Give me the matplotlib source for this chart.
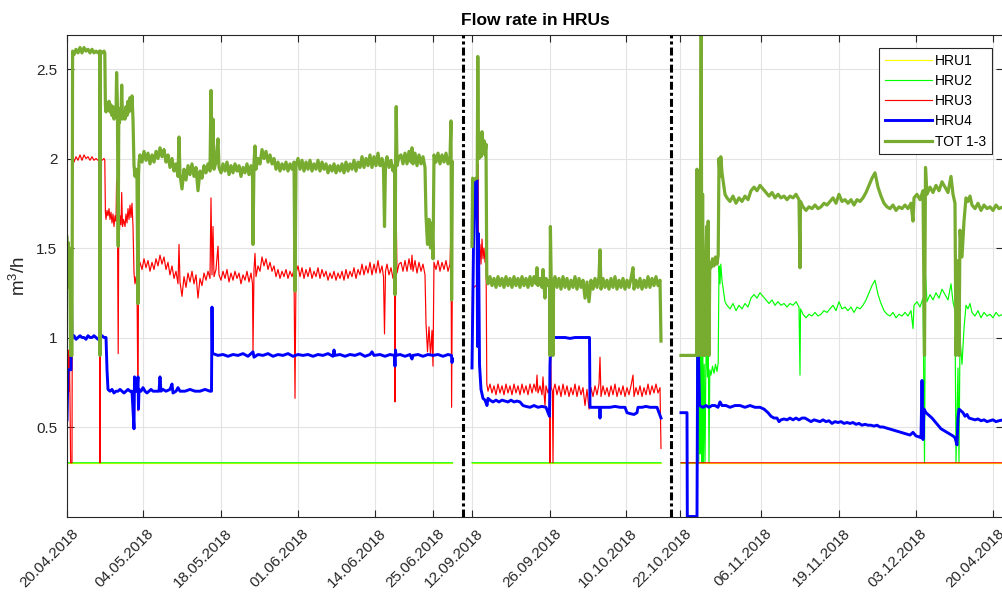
import numpy as np
import matplotlib
matplotlib.use("Agg")
import matplotlib.pyplot as plt
from matplotlib.transforms import ScaledTranslation

plt.rcParams['font.family'] = ['Liberation Sans', 'DejaVu Sans']
plt.rcParams['mathtext.fontset'] = 'custom'
plt.rcParams['mathtext.rm'] = 'Liberation Sans'

# ---------------- data (x = sample index, y = flow in m3/h) ----------------
HRU1_LEVEL = 0.3          # HRU1 constant over whole record
HRU2_LEVEL_A = 0.3        # HRU2 during periods 1 and 2
HRU3_LEVEL_C = 0.3        # HRU3 during period 3

# HRU3 period 1
hru3_seg1 = [
    (67.0, 0.96), (67.6, 0.68), (68.2, 0.93), (68.8, 0.70), (69.4, 0.90), (70.0, 0.66),
    (70.6, 0.30), (72.0, 0.30), (72.6, 2.00), (74, 1.98), (76, 2.01), (78, 1.99),
    (80, 2.02), (82, 1.99), (84, 2.02), (86, 2.00), (88, 2.01), (90, 1.99), (92, 2.01),
    (94, 1.99), (96, 2.00), (98, 1.99), (99.6, 2.00), (100.0, 0.30), (100.4, 2.00),
    (102, 1.99), (104, 2.00), (104.8, 1.99), (105.4, 1.70), (106, 1.66), (107, 1.71),
    (108, 1.68), (109, 1.72), (110, 1.66), (111, 1.70), (112, 1.64), (113, 1.69),
    (114, 1.62), (115, 1.68), (116, 1.65), (116.6, 1.88), (117.4, 1.70), (118.2, 0.91),
    (118.8, 1.66), (119.5, 1.60), (120, 1.68), (121, 1.63), (121.7, 1.81), (122.5, 1.62),
    (123.5, 1.66), (125, 1.62), (126, 1.69), (127, 1.64), (128, 1.72), (129, 1.66),
    (130, 1.74), (131, 1.67), (132, 1.75), (133, 1.62), (134, 1.36), (135, 1.30),
    (136, 1.34), (137, 1.28), (138, 0.59), (138.5, 1.30), (139, 1.38), (140, 1.42),
    (142, 1.38), (144, 1.44), (146, 1.39), (148, 1.43), (150, 1.37), (152, 1.42),
    (154, 1.38), (156, 1.44), (158, 1.40), (160, 1.46), (162, 1.41), (164, 1.45),
    (166, 1.38), (168, 1.42), (170, 1.35), (172, 1.40), (174, 1.33), (176, 1.37),
    (178, 1.30), (179, 1.52), (180, 1.31), (182, 1.23), (184, 1.34), (186, 1.28),
    (188, 1.36), (190, 1.31), (192, 1.37), (194, 1.30), (196, 1.35), (198, 1.22),
    (200, 1.33), (202, 1.29), (204, 1.36), (206, 1.32), (208, 1.37), (210, 1.33),
    (211, 1.78), (212, 1.35), (213, 1.62), (214, 1.34), (216, 1.38), (218, 1.51),
    (219, 1.35), (221, 1.32), (223, 1.37), (225, 1.33), (227, 1.38), (229, 1.31),
    (231, 1.36), (233, 1.32), (235, 1.37), (237, 1.33), (239, 1.36), (241, 1.30),
    (243, 1.35), (245, 1.32), (247, 1.37), (249, 1.31), (251, 1.36), (252.5, 1.30),
    (253.0, 0.92), (253.5, 1.17), (254, 1.38), (255, 1.47), (256, 1.34), (258, 1.40),
    (260, 1.37), (262, 1.45), (264, 1.40), (266, 1.44), (268, 1.38), (270, 1.42),
    (272, 1.37), (274, 1.40), (276, 1.34), (278, 1.38), (280, 1.33), (282, 1.37),
    (284, 1.34), (286, 1.38), (288, 1.33), (290, 1.37), (292, 1.34), (294, 1.38),
    (295, 0.66), (296, 1.36), (298, 1.40), (300, 1.34), (302, 1.39), (304, 1.33),
    (306, 1.38), (308, 1.34), (310, 1.39), (312, 1.33), (314, 1.37), (316, 1.34),
    (318, 1.39), (320, 1.33), (322, 1.38), (324, 1.34), (326, 1.37), (328, 1.32),
    (330, 1.36), (332, 1.33), (334, 1.37), (336, 1.32), (338, 1.36), (340, 1.33),
    (342, 1.37), (344, 1.32), (346, 1.38), (348, 1.33), (350, 1.37), (352, 1.34),
    (354, 1.39), (356, 1.33), (358, 1.38), (360, 1.35), (362, 1.41), (364, 1.35),
    (366, 1.40), (368, 1.36), (370, 1.42), (372, 1.35), (374, 1.41), (376, 1.36),
    (378, 1.43), (380, 1.36), (382, 1.40), (383.5, 1.34), (384.5, 1.02), (385.5, 1.37),
    (387, 1.41), (389, 1.35), (391, 1.39), (393, 1.33), (394.6, 1.36), (395.0, 0.64),
    (395.6, 1.38), (396.2, 1.69), (397, 1.36), (399, 1.41), (401, 1.42), (403, 1.37),
    (405, 1.43), (407, 1.37), (409, 1.44), (411, 1.38), (412, 1.46), (413, 1.37),
    (415, 1.43), (417, 1.36), (419, 1.42), (421, 1.37), (423, 1.41), (425, 1.35),
    (426, 1.08), (427.5, 0.92), (429, 1.06), (430.5, 0.90), (432, 1.04), (433, 0.84),
    (434, 1.42), (436, 1.38), (438, 1.43), (440, 1.37), (442, 1.42), (444, 1.38),
    (446, 1.43), (448, 1.37), (450, 1.41), (451, 1.61), (451.6, 0.61), (452.4, 1.38),
]

# HRU3 period 2
hru3_seg2 = [
    (472.0, 0.91), (472.6, 1.29), (474, 1.28), (476, 1.29), (477.2, 1.29), (477.8, 1.97),
    (478.4, 1.50), (479, 1.40), (480, 1.52), (481, 1.41), (482, 1.55), (483, 1.44),
    (484, 1.50), (485, 1.42), (486, 1.48), (486.8, 0.74), (488, 0.70), (490, 0.74),
    (492, 0.69), (494, 0.73), (496, 0.68), (498, 0.74), (500, 0.69), (502, 0.73),
    (504, 0.68), (506, 0.74), (508, 0.69), (510, 0.73), (512, 0.68), (514, 0.74),
    (516, 0.69), (518, 0.73), (520, 0.68), (522, 0.74), (524, 0.69), (526, 0.73),
    (528, 0.68), (530, 0.74), (532, 0.69), (534, 0.74), (536, 0.70), (537, 0.79),
    (538, 0.69), (540, 0.73), (542, 0.68), (543, 0.78), (544, 0.69), (545, 0.62),
    (546, 0.73), (548, 0.69), (549.6, 0.72), (550.0, 0.30), (550.4, 1.02), (551.2, 0.72),
    (552.4, 0.70), (553.0, 0.30), (553.6, 0.71), (555, 0.74), (557, 0.68), (559, 0.73),
    (561, 0.67), (563, 0.74), (565, 0.68), (567, 0.73), (569, 0.67), (571, 0.72),
    (573, 0.68), (575, 0.74), (577, 0.67), (579, 0.73), (581, 0.68), (583, 0.72),
    (585, 0.62), (587, 0.71), (589, 0.60), (591, 0.72), (593, 0.67), (595, 0.73),
    (597, 0.68), (599, 0.74), (600, 0.89), (601, 0.67), (603, 0.73), (605, 0.68),
    (607, 0.72), (609, 0.67), (611, 0.73), (613, 0.68), (615, 0.74), (617, 0.67),
    (619, 0.72), (621, 0.68), (623, 0.73), (625, 0.67), (627, 0.72), (629, 0.68),
    (631, 0.73), (633, 0.79), (634, 0.67), (636, 0.72), (638, 0.68), (640, 0.73),
    (642, 0.67), (644, 0.72), (646, 0.68), (648, 0.74), (650, 0.68), (652, 0.73),
    (654, 0.69), (656, 0.74), (658, 0.69), (660, 0.72), (661, 0.38),
]

# HRU2 period 3
hru2_seg3 = [
    (681, 0.30), (696.6, 0.30), (697.0, 1.34), (697.6, 0.45), (698.2, 1.20), (698.8, 0.30),
    (699.4, 1.19), (700.0, 0.35), (700.6, 1.15), (701.2, 2.30), (701.8, 0.30), (702.6, 1.20),
    (703.4, 0.30), (704.2, 0.85), (705.0, 0.30), (705.8, 0.81), (706.6, 1.02), (707.4, 0.78),
    (708.2, 1.05), (709.0, 0.30), (709.8, 0.82), (711, 0.79), (712.5, 0.84), (714, 0.80),
    (715.5, 0.85), (717, 0.81), (718.2, 0.86), (719.0, 1.40), (720.0, 1.30), (720.8, 1.41),
    (722, 1.32), (723.5, 1.26), (725, 1.20), (727, 1.18), (730, 1.16), (733, 1.19),
    (736, 1.15), (739, 1.18), (742, 1.16), (745, 1.19), (748, 1.17), (751, 1.22),
    (754, 1.24), (757, 1.22), (760, 1.25), (763, 1.23), (766, 1.21), (769, 1.19),
    (772, 1.21), (775, 1.18), (778, 1.20), (781, 1.18), (784, 1.19), (787, 1.17),
    (790, 1.19), (793, 1.18), (796, 1.20), (799, 1.17), (800, 0.79), (800.5, 1.16),
    (803, 1.13), (806, 1.11), (809, 1.13), (812, 1.12), (815, 1.14), (818, 1.12),
    (821, 1.13), (824, 1.15), (827, 1.14), (830, 1.16), (833, 1.18), (836, 1.15),
    (839, 1.20), (842, 1.16), (845, 1.17), (848, 1.15), (851, 1.17), (854, 1.14),
    (857, 1.17), (860, 1.16), (863, 1.18), (866, 1.21), (869, 1.25), (872, 1.29),
    (875, 1.32), (878, 1.24), (881, 1.19), (884, 1.15), (887, 1.13), (890, 1.12),
    (893, 1.14), (896, 1.11), (899, 1.13), (902, 1.12), (905, 1.14), (908, 1.12),
    (911, 1.15), (913, 1.05), (914, 1.18), (917, 1.20), (920, 1.17), (923, 1.22),
    (924.5, 0.30), (925.5, 1.35), (927, 1.20), (930, 1.24), (933, 1.21), (936, 1.25),
    (939, 1.22), (942, 1.27), (945, 1.24), (948, 1.21), (951, 1.30), (953, 1.20),
    (955, 1.15), (956, 0.30), (958, 0.83), (959, 0.30), (960, 1.00), (962, 0.85),
    (964, 1.05), (966, 1.18), (968, 1.16), (970, 1.19), (972, 1.14), (975, 1.12),
    (978, 1.15), (981, 1.11), (984, 1.14), (987, 1.12), (990, 1.13), (993, 1.11),
    (996, 1.14), (999, 1.12), (1003, 1.13),
]

# HRU4 (three periods)
hru4_seg1 = [
    (67, 0.54), (68, 0.82), (71, 0.82), (71.5, 1.22), (72, 1.00), (74, 1.01), (76, 0.99),
    (78, 1.00), (80, 1.01), (82, 1.00), (84, 1.00), (86, 0.99), (88, 1.01), (90, 1.00),
    (92, 1.00), (94, 1.01), (96, 1.00), (98, 0.99), (100, 1.00), (102, 1.01), (104, 1.00),
    (106, 1.00), (107, 0.82), (108, 0.71), (110, 0.70), (112, 0.71), (114, 0.69),
    (116, 0.70), (118, 0.70), (120, 0.71), (122, 0.70), (124, 0.69), (126, 0.70),
    (128, 0.71), (130, 0.70), (132, 0.70), (134, 0.49), (134.5, 0.78), (135.5, 0.70),
    (137, 0.70), (138, 0.78), (138.5, 0.60), (139, 0.71), (141, 0.70), (143, 0.72),
    (145, 0.70), (147, 0.69), (149, 0.70), (151, 0.71), (153, 0.70), (155, 0.70),
    (157, 0.70), (159, 0.70), (160, 0.78), (161, 0.70), (163, 0.71), (166, 0.70),
    (170, 0.71), (172, 0.74), (173, 0.69), (176, 0.70), (178, 0.72), (180, 0.70),
    (185, 0.70), (190, 0.71), (195, 0.70), (200, 0.70), (205, 0.71), (210, 0.70),
    (211.5, 0.70), (212, 1.17), (212.5, 0.91), (213, 0.91), (218, 0.90), (223, 0.905),
    (228, 0.895), (233, 0.905), (238, 0.90), (243, 0.91), (248, 0.895), (253, 0.92),
    (254, 0.89), (258, 0.905), (263, 0.90), (268, 0.91), (273, 0.895), (278, 0.905),
    (283, 0.90), (288, 0.91), (293, 0.895), (298, 0.905), (303, 0.90), (308, 0.905),
    (313, 0.895), (318, 0.905), (323, 0.90), (328, 0.91), (333, 0.895), (334, 0.93),
    (335, 0.90), (340, 0.905), (345, 0.895), (350, 0.905), (355, 0.90), (360, 0.91),
    (365, 0.895), (370, 0.905), (372, 0.92), (374, 0.90), (380, 0.905), (385, 0.895),
    (390, 0.905), (394.5, 0.90), (395, 0.84), (395.5, 0.93), (396, 0.90), (400, 0.905),
    (405, 0.895), (410, 0.905), (412, 0.88), (413, 0.90), (418, 0.905), (423, 0.895),
    (428, 0.905), (433, 0.90), (438, 0.905), (443, 0.895), (448, 0.905), (451.5, 0.90),
    (452, 0.86), (452.5, 0.88),
]
hru4_seg2 = [
    (472, 0.83), (473.5, 1.51), (475, 1.88), (477, 1.88), (477.5, 0.95), (478.5, 1.58),
    (479.5, 0.85), (481, 0.71), (483, 0.66), (485, 0.65), (487, 0.62), (488, 0.66),
    (490, 0.65), (493, 0.64), (496, 0.65), (499, 0.64), (502, 0.65), (505, 0.645),
    (508, 0.64), (511, 0.65), (514, 0.64), (517, 0.645), (520, 0.64), (523, 0.62),
    (526, 0.615), (530, 0.61), (534, 0.62), (538, 0.61), (542, 0.615), (546, 0.61),
    (548, 0.58), (549.5, 0.56), (550, 0.85), (551, 1.00), (555, 1.00), (560, 1.00),
    (565, 1.00), (570, 0.995), (575, 1.00), (580, 1.00), (585, 1.00), (589.5, 1.00),
    (590, 0.61), (595, 0.61), (599.5, 0.61), (600, 0.55), (600.5, 0.61), (605, 0.61),
    (610, 0.61), (615, 0.615), (620, 0.61), (625, 0.61), (627, 0.58), (630, 0.575),
    (634, 0.57), (637, 0.58), (638, 0.61), (642, 0.61), (646, 0.615), (650, 0.61),
    (654, 0.61), (657, 0.61), (659, 0.58), (661, 0.55),
]
hru4_seg3 = [
    (681, 0.58), (687, 0.58), (687.3, 0.0), (697, 0.0), (697.7, 1.04), (698.5, 0.90),
    (699.5, 0.62), (703, 0.61), (706, 0.62), (709, 0.61), (712, 0.62), (715, 0.62),
    (718, 0.61), (720, 0.64), (722, 0.62), (726, 0.62), (730, 0.61), (735, 0.62),
    (740, 0.62), (745, 0.61), (750, 0.62), (755, 0.61), (760, 0.61), (764, 0.60),
    (768, 0.58), (771, 0.56), (774, 0.55), (777, 0.55), (779, 0.53), (781, 0.54),
    (784, 0.545), (787, 0.54), (790, 0.55), (793, 0.54), (796, 0.55), (799, 0.54),
    (802, 0.55), (805, 0.55), (808, 0.54), (811, 0.53), (814, 0.54), (817, 0.535),
    (820, 0.53), (823, 0.54), (826, 0.53), (829, 0.535), (832, 0.52), (835, 0.53),
    (838, 0.525), (841, 0.53), (844, 0.52), (847, 0.525), (850, 0.52), (853, 0.525),
    (856, 0.515), (859, 0.52), (862, 0.51), (865, 0.515), (868, 0.51), (871, 0.51),
    (874, 0.505), (877, 0.51), (880, 0.50), (883, 0.50), (886, 0.495), (889, 0.49),
    (892, 0.485), (895, 0.48), (898, 0.475), (901, 0.47), (904, 0.465), (907, 0.46),
    (910, 0.455), (913, 0.47), (916, 0.45), (919, 0.445), (921, 0.44), (922, 0.76),
    (923, 0.43), (924, 0.60), (926, 0.58), (928, 0.57), (930, 0.56), (932, 0.55),
    (935, 0.53), (938, 0.51), (941, 0.49), (944, 0.48), (947, 0.47), (950, 0.46),
    (953, 0.45), (955, 0.44), (957, 0.40), (958, 0.55), (959, 0.60), (961, 0.59),
    (963, 0.58), (965, 0.56), (967, 0.57), (969, 0.55), (972, 0.545), (975, 0.54),
    (978, 0.545), (981, 0.535), (984, 0.54), (987, 0.53), (990, 0.535), (993, 0.54),
    (996, 0.53), (999, 0.535), (1003, 0.54),
]

tick_pos = [67, 143, 221, 298, 375, 433, 472, 550, 626, 680, 761, 839, 916, 993]
tick_labels = ['20.04.2018', '04.05.2018', '18.05.2018', '01.06.2018', '14.06.2018',
               '25.06.2018', '12.09.2018', '26.09.2018', '10.10.2018', '22.10.2018',
               '06.11.2018', '19.11.2018', '03.12.2018', '20.04.2018']
period_breaks = [462.5, 671]
series_names = ['HRU1', 'HRU2', 'HRU3', 'HRU4', 'TOT 1-3']

# ---------------- build series ----------------
def unzip(pairs):
    return [p[0] for p in pairs], [p[1] for p in pairs]

x1, h3_1 = unzip(hru3_seg1)
x2, h3_2 = unzip(hru3_seg2)
x3, h2_3 = unzip(hru2_seg3)
NAN = [np.nan]
x_all = np.array(x1 + NAN + x2 + NAN + x3, dtype=float)
hru1 = np.array([HRU1_LEVEL] * len(x1) + NAN + [HRU1_LEVEL] * len(x2) + NAN + [HRU1_LEVEL] * len(x3))
hru2 = np.array([HRU2_LEVEL_A] * len(x1) + NAN + [HRU2_LEVEL_A] * len(x2) + NAN + h2_3)
hru3 = np.array(h3_1 + NAN + h3_2 + NAN + [HRU3_LEVEL_C] * len(x3))
tot = hru1 + hru2 + hru3

b1x, b1y = unzip(hru4_seg1)
b2x, b2y = unzip(hru4_seg2)
b3x, b3y = unzip(hru4_seg3)
xb = np.array(b1x + NAN + b2x + NAN + b3x, dtype=float)
hru4 = np.array(b1y + NAN + b2y + NAN + b3y, dtype=float)

# ---------------- figure ----------------
W, H = 1002, 592
fig = plt.figure(figsize=(W / 100, H / 100), dpi=100)
ax = fig.add_axes([67 / W, (H - 516.5) / H, (1003 - 67) / W, (516.5 - 35) / H])

dark = '#262626'
ax.plot(x_all, hru1, color='#ffff00', lw=0.85, label=series_names[0])
ax.plot(x_all, hru2, color='#00ff00', lw=0.85, label=series_names[1])
ax.plot(x_all, hru3, color='#ff0000', lw=0.85, label=series_names[2])
ax.plot(xb, hru4, color='#0000ff', lw=2.1, label=series_names[3])
ax.plot(x_all, tot, color='#77ac30', lw=2.3, label=series_names[4])

for xbk in period_breaks:
    ax.axvline(xbk, color='black', lw=2.2, ls=(0, (2.6, 1.0, 1.0, 1.0)), zorder=5)

ax.set_xlim(67, 1003)
ax.set_ylim(0, 2.69)
ax.set_yticks([0.5, 1, 1.5, 2, 2.5])
ax.set_yticklabels(['0.5', '1', '1.5', '2', '2.5'])
ax.set_xticks(tick_pos)
ax.set_xticklabels(tick_labels, rotation=45, ha='right', rotation_mode='anchor')

ax.grid(True, color='#e3e3e3', lw=0.8)
ax.set_axisbelow(True)
ax.tick_params(direction='in', length=5, width=0.8, top=True, right=True,
               color=dark, labelcolor=dark, labelsize=11)
ax.tick_params(axis='y', pad=7)
ax.tick_params(axis='x', pad=6)
offset = ScaledTranslation(4 / 100, -1 / 100, fig.dpi_scale_trans)
for lab in ax.xaxis.get_majorticklabels():
    lab.set_transform(lab.get_transform() + offset)
for s in ax.spines.values():
    s.set_color(dark)
    s.set_linewidth(0.8)

ax.set_ylabel(r'$\mathregular{m^3/h}$', fontsize=13.5, color=dark)
ax.yaxis.set_label_coords((29 - 67) / (1003 - 67), 0.5)
ax.set_title('Flow rate in HRUs', fontsize=12.5, fontweight='bold', color='black', pad=7)

leg = ax.legend(loc='upper right', bbox_to_anchor=(992 / W, 1 - 48 / H),
                bbox_transform=fig.transFigure, fontsize=10, frameon=True,
                fancybox=False, edgecolor=dark, framealpha=1, handlelength=3.4,
                handletextpad=0.25, labelspacing=0.45, borderpad=0.4, borderaxespad=0)
leg.get_frame().set_linewidth(0.8)

fig.savefig('out.png', dpi=100)
